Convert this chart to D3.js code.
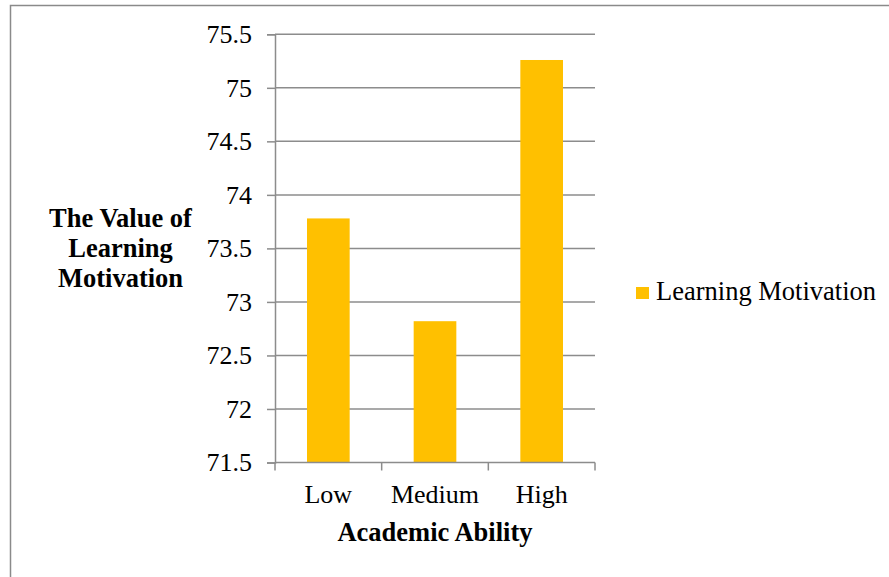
<!DOCTYPE html>
<html>
<head>
<meta charset="utf-8">
<script src="https://cdn.jsdelivr.net/npm/d3@7"></script>
<style>
  html, body { margin: 0; padding: 0; background: #fff; }
  svg { display: block; }
  text { font-family: "Liberation Serif", "Times New Roman", serif; fill: #000; }
</style>
</head>
<body>
<svg id="chart" width="889" height="577"></svg>
<script>
// Learning motivation by academic ability group
const categories = ["Low", "Medium", "High"];
const motivationValues = [73.78, 72.82, 75.26];
const yTicks = [71.5, 72, 72.5, 73, 73.5, 74, 74.5, 75, 75.5];
const seriesName = "Learning Motivation";
const yTitleLines = ["The Value of", "Learning", "Motivation"];
const xTitle = "Academic Ability";

const FONT = "'Liberation Serif', 'Times New Roman', serif";
const FS = 26;

const svg = d3.select("#chart");
const W = 889, H = 577;
const plot = { left: 275, right: 595, top: 34.3, bottom: 462.5 };
const gridColor = "#8c8c8c";
const barColor = "#ffc000";

// outer frame (top and left edges)
svg.append("path")
  .attr("d", `M10.5,${H} V5.5 H${W}`)
  .attr("fill", "none")
  .attr("stroke", "#8a8a8a")
  .attr("stroke-width", 1.5);

const x = d3.scaleBand()
  .domain(categories)
  .range([plot.left, plot.right])
  .paddingInner(0.6)
  .paddingOuter(0.3);

const xCat = d3.scaleBand()
  .domain(categories)
  .range([plot.left, plot.right]);

const y = d3.scaleLinear()
  .domain([71.5, 75.5])
  .range([plot.bottom, plot.top]);

// horizontal gridlines
svg.append("g")
  .selectAll("line")
  .data(yTicks.slice(1))
  .join("line")
  .attr("x1", plot.left)
  .attr("x2", plot.right)
  .attr("y1", d => y(d))
  .attr("y2", d => y(d))
  .attr("stroke", gridColor)
  .attr("stroke-width", 1.5);

// bars
svg.append("g")
  .selectAll("rect")
  .data(categories.map((c, i) => ({ c, v: motivationValues[i] })))
  .join("rect")
  .attr("x", d => x(d.c))
  .attr("width", x.bandwidth())
  .attr("y", d => y(d.v))
  .attr("height", d => y(71.5) - y(d.v))
  .attr("fill", barColor);

// y axis
const yAxis = svg.append("g")
  .attr("transform", `translate(${plot.left},0)`)
  .call(d3.axisLeft(y).tickValues(yTicks).tickFormat(d3.format("")).tickSize(8).tickPadding(15))
  .attr("font-family", FONT)
  .attr("font-size", FS);
yAxis.select(".domain").attr("stroke", gridColor).attr("stroke-width", 1.5);
yAxis.selectAll(".tick line").attr("stroke", gridColor).attr("stroke-width", 1.5);
yAxis.selectAll(".tick text")
  .style("font-family", FONT)
  .style("font-size", FS + "px")
  .attr("fill", "#000");

// x axis with boundary ticks between categories
const xAxisG = svg.append("g").attr("transform", `translate(0,${plot.bottom})`);
xAxisG.append("line")
  .attr("x1", plot.left).attr("x2", plot.right)
  .attr("stroke", gridColor).attr("stroke-width", 1.5);
const boundaries = categories.map(c => xCat(c)).concat([plot.right]);
xAxisG.selectAll("line.tk")
  .data(boundaries)
  .join("line")
  .attr("class", "tk")
  .attr("x1", d => d).attr("x2", d => d)
  .attr("y1", 0).attr("y2", 8)
  .attr("stroke", gridColor).attr("stroke-width", 1.5);
xAxisG.selectAll("text")
  .data(categories)
  .join("text")
  .attr("x", d => xCat(d) + xCat.bandwidth() / 2)
  .attr("y", 40)
  .attr("text-anchor", "middle")
  .style("font-family", FONT)
  .style("font-size", FS + "px")
  .text(d => d);

// axis titles
svg.append("text")
  .attr("x", (plot.left + plot.right) / 2)
  .attr("y", 541)
  .attr("text-anchor", "middle")
  .style("font-family", FONT)
  .style("font-size", "26.5px")
  .style("font-weight", "bold")
  .text(xTitle);

svg.append("g")
  .selectAll("text")
  .data(yTitleLines)
  .join("text")
  .attr("x", 120.5)
  .attr("y", (d, i) => 227 + i * 30)
  .attr("text-anchor", "middle")
  .style("font-family", FONT)
  .style("font-size", "26.5px")
  .style("font-weight", "bold")
  .text(d => d);

// legend
const legend = svg.append("g").attr("transform", "translate(636,287)");
legend.append("rect")
  .attr("width", 13).attr("height", 12)
  .attr("fill", barColor);
legend.append("text")
  .attr("x", 20).attr("y", 12.5)
  .style("font-family", FONT)
  .style("font-size", "26.5px")
  .text(seriesName);
</script>
</body>
</html>
